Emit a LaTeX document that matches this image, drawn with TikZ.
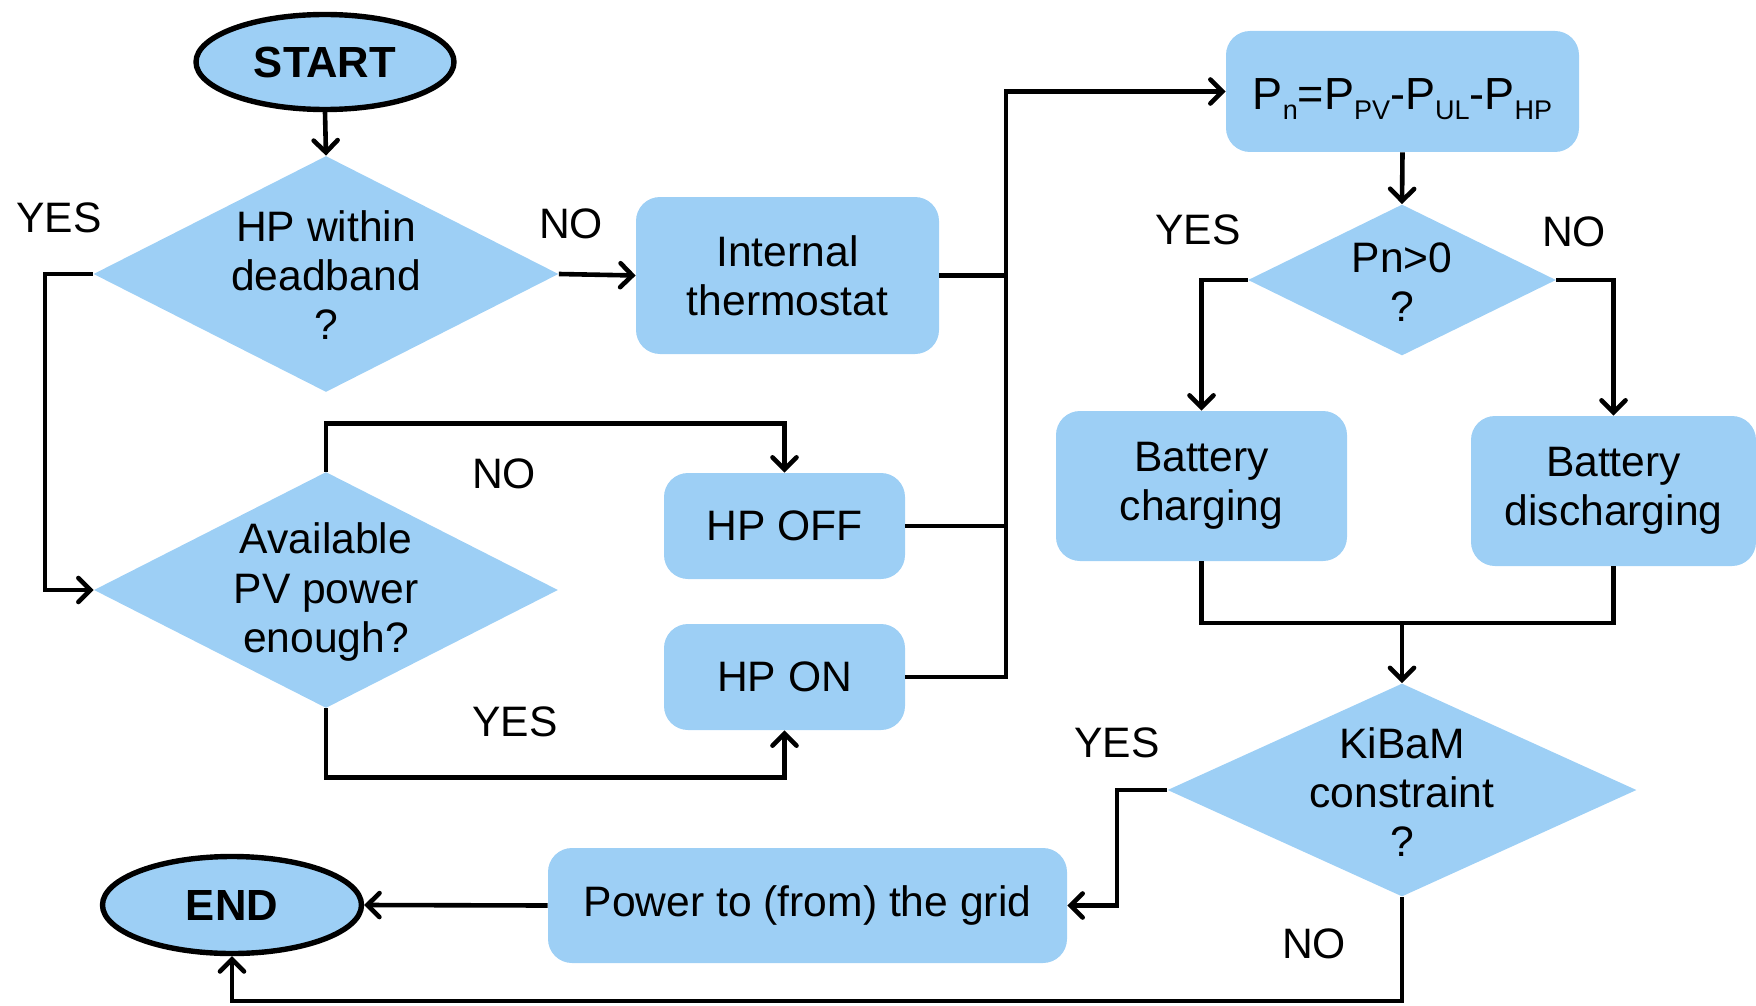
\documentclass[tikz,border=0pt]{standalone}
\usepackage{fontspec}
\setmainfont{Liberation Sans}
\usetikzlibrary{shapes.geometric,arrows.meta}
\definecolor{fc}{RGB}{157,207,245}
\newcommand\lsub[1]{\raisebox{-5pt}{\fontsize{13.5}{13.5}\selectfont #1}}
\begin{document}
\begin{tikzpicture}[x=0.5pt,y=-0.5pt,
  every node/.style={font=\fontsize{21.3}{24.6}\selectfont},
  box/.style={fill=fc, rounded corners=12pt, inner sep=0pt, align=center},
  dia/.style={diamond, fill=fc, inner sep=0pt},
  txt/.style={align=center, inner sep=0pt},
  term/.style={ellipse, draw, line width=2.7pt, fill=fc, inner sep=0pt, font=\fontsize{21.8}{24.6}\selectfont\bfseries},
  conn/.style={line width=2.3pt},
  arr/.style={conn, -{Straight Barb[length=6pt,width=12pt,line cap=round]}},
]
\useasboundingbox (0,0) rectangle (1756,1006);

% nodes
\node[term, minimum width=129pt, minimum height=47.5pt] (start) at (325,62) {START};
\node[dia, minimum width=232.5pt, minimum height=118pt] (d1) at (326,274) {};
\node[txt] (d1t) at (326,275) {HP within\\deadband\\?};
\node[box, minimum width=151.5pt, minimum height=78.5pt] (th) at (787.5,275.5) {Internal\\thermostat};
\node[box, minimum width=176.5pt, minimum height=60.5pt] (pn) at (1402.5,91.5) {};
\node[txt] (pnt) at (1402.5,99)
  {\fontsize{22.5}{24}\selectfont P\lsub{n}=P\lsub{PV}-P\lsub{UL}-P\lsub{HP}};
\node[dia, minimum width=154pt, minimum height=75.5pt] (d2) at (1402,280) {};
\node[txt] (d2t) at (1402,282) {Pn>0\\?};
\node[box, minimum width=145.5pt, minimum height=75pt] (bc) at (1201.5,486) {Battery\\charging};
\node[box, minimum width=142.5pt, minimum height=75pt] (bd) at (1613.5,491) {Battery\\discharging};
\node[dia, minimum width=232pt, minimum height=118pt] (d3) at (326,590) {};
\node[txt] (d3t) at (326,592) {Available\\PV power\\enough?};
\node[box, minimum width=120.5pt, minimum height=53pt] (off) at (784.5,526) {HP OFF};
\node[box, minimum width=120.5pt, minimum height=53pt] (on) at (784.5,677) {HP ON};
\node[dia, minimum width=234.5pt, minimum height=106.5pt] (d4) at (1402,790) {};
\node[txt] (d4t) at (1402,792) {KiBaM\\constraint\\?};
\node[box, minimum width=259.5pt, minimum height=57.5pt] (grid) at (807.5,905.5) {Power to (from) the grid};
\node[term, minimum width=129.5pt, minimum height=48.5pt] (end) at (232,905) {END};

% labels
\node[txt] (l1) at (59,218) {YES};
\node[txt] (l2) at (571,224) {NO};
\node[txt] (l3) at (504,474) {NO};
\node[txt] (l4) at (515,722) {YES};
\node[txt] (l5) at (1198,230) {YES};
\node[txt] (l6) at (1574,232) {NO};
\node[txt] (l7) at (1117,743) {YES};
\node[txt] (l8) at (1314,944) {NO};

% connectors
\coordinate (bus) at (1006,0);
\coordinate (m) at (1402,623);
\draw[arr] (start.south) -- (d1.north);
\draw[arr] (d1.east) -- (th.west);
\draw[arr] (d1.west) -- ++(-48,0) |- (d3.west);
\draw[arr] (d3.north) -- ++(0,-48) -| (off.north);
\draw[arr] (d3.south) -- ++(0,69) -| (on.south);
\draw[conn] (th.east) -- (th.east -| bus);
\draw[conn] (off.east) -- (off.east -| bus);
\draw[arr] (on.east) -- (on.east -| bus) -- (pn.west -| bus) -- (pn.west);
\draw[arr] (pn.south) -- (d2.north);
\draw[arr] (d2.west) -| (bc.north);
\draw[arr] (d2.east) -| (bd.north);
\draw[conn] (bc.south) |- (m) -| (bd.south);
\draw[arr] (m) -- (d4.north);
\draw[arr] (d4.west) -- ++(-50,0) |- (grid.east);
\draw[arr] (grid.west) -- (end.east);
\draw[arr] (d4.south) -- ++(0,104) -| (end.south);
\end{tikzpicture}
\end{document}
